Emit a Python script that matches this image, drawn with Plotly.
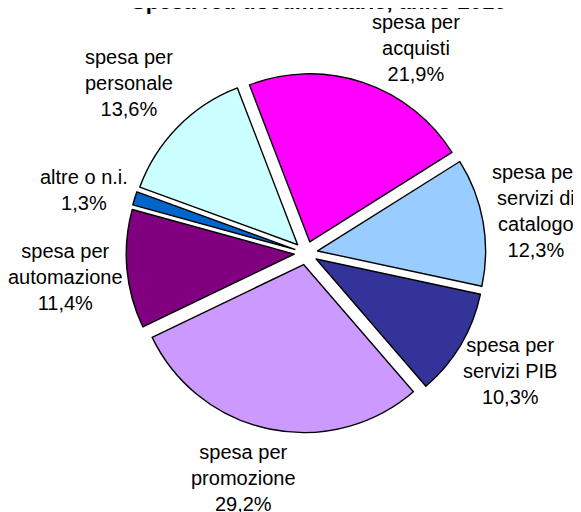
import plotly.graph_objects as go

# ---- data ----
categories = ["spesa per acquisti", "spesa per servizi di catalogo", "spesa per servizi PIB",
              "spesa per promozione", "spesa per automazione", "altre o n.i.", "spesa per personale"]
label_lines = ["spesa per<br>acquisti", "spesa per<br>servizi di<br>catalogo", "spesa per<br>servizi PIB",
               "spesa per<br>promozione", "spesa per<br>automazione", "altre o n.i.", "spesa per<br>personale"]
values = [21.9, 12.3, 10.3, 29.2, 11.4, 1.3, 13.6]
title_text = "Spesa reti documentarie, anno 2010"

# ---- style ----
colors = ["#FF00FF", "#99CCFF", "#333399", "#CC99FF", "#800080", "#0066CC", "#CCFFFF"]
W, H = 581, 512
OFF = 8  # page body margin compensation
label_pos_px = [(416, 48), (536, 211), (510, 371), (243, 478), (65, 277), (84, 190), (129, 83)]


def px_x(p):
    return (p - OFF) / W


def px_y(p):
    return 1 - (p - OFF) / H


fig = go.Figure(go.Pie(
    labels=categories,
    values=values,
    sort=False,
    direction="clockwise",
    rotation=339,
    pull=[0.07] * len(values),
    marker=dict(colors=colors, line=dict(color="black", width=1.4)),
    textinfo="none",
    hoverinfo="label+percent",
    showlegend=False,
    domain=dict(x=[px_x(126.2), px_x(485.8)], y=[px_y(432.8), px_y(73.2)]),
))

annotations = []
for txt, v, (px, py) in zip(label_lines, values, label_pos_px):
    pct = f"{v:.1f}".replace(".", ",") + "%"
    annotations.append(dict(
        text=f"{txt}<br>{pct}", x=px_x(px), y=px_y(py), xref="paper", yref="paper",
        xanchor="center", yanchor="middle", showarrow=False, align="center",
        font=dict(family="Liberation Sans, Arial", size=20, color="black"),
    ))

annotations.append(dict(
    text=f"<b>{title_text}</b>", x=px_x(318.5), y=px_y(1), xref="paper", yref="paper",
    xanchor="center", yanchor="middle", showarrow=False,
    font=dict(family="Liberation Sans, Arial", size=22, color="black"),
))

fig.update_layout(
    width=W, height=H,
    margin=dict(l=0, r=0, t=0, b=0),
    paper_bgcolor="white", plot_bgcolor="white",
    annotations=annotations,
)

fig.write_html("out.html")
